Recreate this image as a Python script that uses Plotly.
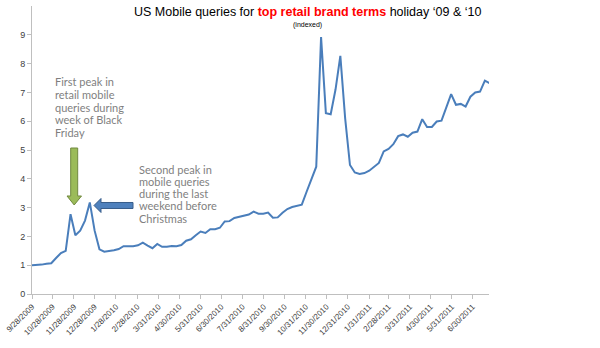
import plotly.graph_objects as go
import pandas as pd

# ---- data ----
start_date = "2009-09-28"
values = [1.0, 1.0, 1.02, 1.05, 1.07, 1.25, 1.42, 1.5, 2.77, 2.04,
          2.2, 2.55, 3.18, 2.2, 1.55, 1.47, 1.49, 1.52, 1.56, 1.66,
          1.66, 1.66, 1.69, 1.78, 1.68, 1.59, 1.74, 1.64, 1.64, 1.67,
          1.66, 1.70, 1.85, 1.9, 2.04, 2.17, 2.12, 2.25, 2.25, 2.30,
          2.52, 2.53, 2.64, 2.68, 2.72, 2.76, 2.86, 2.79, 2.79, 2.83,
          2.65, 2.66, 2.82, 2.95, 3.02, 3.07, 3.1, 3.55, 4.0, 4.42,
          8.92, 6.28, 6.24, 7.1, 8.27, 6.1, 4.48, 4.22, 4.17, 4.2,
          4.28, 4.4, 4.55, 4.95, 5.04, 5.2, 5.48, 5.54, 5.46, 5.6,
          5.64, 6.07, 5.8, 5.8, 5.99, 6.02, 6.45, 6.94, 6.57, 6.6,
          6.51, 6.85, 7.0, 7.03, 7.41, 7.32]
dates = pd.date_range(start_date, periods=len(values), freq="7D")

tick_dates = ["2009-09-28", "2009-10-28", "2009-11-28", "2009-12-28", "2010-01-28",
              "2010-02-28", "2010-03-31", "2010-04-30", "2010-05-31", "2010-06-30",
              "2010-07-31", "2010-08-31", "2010-09-30", "2010-10-31", "2010-11-30",
              "2010-12-31", "2011-01-31", "2011-02-28", "2011-03-31", "2011-04-30",
              "2011-05-31", "2011-06-30"]
tick_labels = ["9/28/2009", "10/28/2009", "11/28/2009", "12/28/2009", "1/28/2010",
               "2/28/2010", "3/31/2010", "4/30/2010", "5/31/2010", "6/30/2010",
               "7/31/2010", "8/31/2010", "9/30/2010", "10/31/2010", "11/30/2010",
               "12/31/2010", "1/31/2011", "2/28/2011", "3/31/2011", "4/30/2011",
               "5/31/2011", "6/30/2011"]
y_ticks = [0, 1, 2, 3, 4, 5, 6, 7, 8, 9]

note1_lines = ["First peak in", "retail mobile", "queries during", "week of Black", "Friday"]
note2_lines = ["Second peak in", "mobile queries", "during the last", "weekend before", "Christmas"]

# ---- layout geometry (pixels) ----
W, H = 600, 348
L, R, T, B = 32, 111, 6, 54
PW, PH = W - L - R, H - T - B

def px(x):
    return (x - L) / PW

def py(y):
    return (H - B - y) / PH

fig = go.Figure()
fig.add_trace(go.Scatter(x=dates, y=values, mode="lines",
                         line=dict(color="#4a7ebb", width=2), hoverinfo="skip"))

axis_col = "#bfbfbf"
tick_font = dict(family="Liberation Sans, Arial", size=8, color="#404040")

fig.update_layout(
    width=W, height=H,
    margin=dict(l=L, r=R, t=T, b=B),
    paper_bgcolor="white", plot_bgcolor="white",
    showlegend=False,
    xaxis=dict(type="date", range=[start_date, "2011-07-24"],
               tickvals=tick_dates, ticktext=tick_labels, tickangle=-45,
               showgrid=False, zeroline=False, showline=True, linecolor=axis_col,
               linewidth=1, ticks="outside", ticklen=4, tickcolor=axis_col,
               tickfont=tick_font),
    yaxis=dict(range=[0, 10], tickvals=y_ticks, showgrid=False, zeroline=False,
               showline=True, linecolor=axis_col, linewidth=1, ticks="outside",
               ticklen=4, tickcolor=axis_col,
               tickfont=dict(family="Liberation Sans, Arial", size=9, color="#404040")),
)

# Title
fig.add_annotation(
    xref="paper", yref="paper", x=px(307), y=py(12), xanchor="center", yanchor="middle",
    showarrow=False,
    text="US Mobile queries for <b><span style='color:#ff0000'>top retail brand terms</span></b> holiday \u201809 & \u201810",
    font=dict(family="Liberation Sans, Arial", size=12.5, color="#000000"))
fig.add_annotation(
    xref="paper", yref="paper", x=px(307), y=py(24.5), xanchor="center", yanchor="middle",
    showarrow=False, text="(indexed)",
    font=dict(family="Liberation Sans, Arial", size=7, color="#000000"))

note_font = dict(family="Lato, Liberation Sans", size=11, color="#7f7f7f")
for i, line in enumerate(note1_lines):
    fig.add_annotation(
        xref="paper", yref="paper", x=px(53), y=py(82 + 12.5 * i), xanchor="left",
        yanchor="middle", showarrow=False, align="left", text=line, font=note_font)
for i, line in enumerate(note2_lines):
    fig.add_annotation(
        xref="paper", yref="paper", x=px(137), y=py(169 + 12.3 * i), xanchor="left",
        yanchor="middle", showarrow=False, align="left", text=line, font=note_font)

def path(points):
    return "M " + " L ".join(f"{px(a):.5f},{py(b):.5f}" for a, b in points) + " Z"

# green down arrow
green = [(70.7, 148), (77.7, 148), (77.7, 196), (81.5, 196), (74.2, 205),
         (67, 196), (70.7, 196)]
fig.add_shape(type="path", xref="paper", yref="paper", path=path(green),
              fillcolor="#9bbb59", line=dict(color="#71893f", width=1))
# blue left arrow
blue = [(94, 205.5), (101, 198.5), (101, 202.5), (133, 202.5), (133, 208.5),
        (101, 208.5), (101, 212.5)]
fig.add_shape(type="path", xref="paper", yref="paper", path=path(blue),
              fillcolor="#4f81bd", line=dict(color="#385d8a", width=1))

fig.write_html("out.html")
